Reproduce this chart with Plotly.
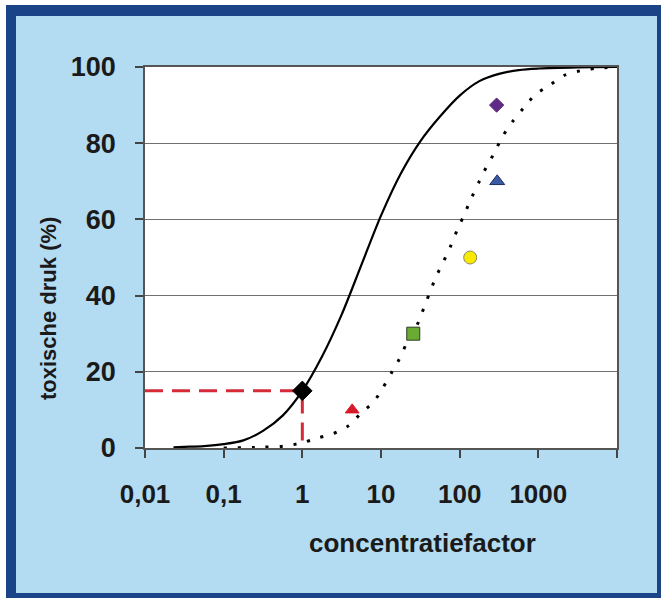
import plotly.graph_objects as go

# ---- data ----
solid_x = [0.023, 0.0316, 0.0562, 0.1, 0.178, 0.316, 0.562, 1, 1.78, 3.16, 5.62, 10, 17.8, 31.6,
           56.2, 100, 178, 316, 562, 1000, 3162, 10000]
solid_y = [0.2, 0.3, 0.5, 1.0, 2.0, 4.5, 8.5, 15, 24, 35, 48, 61, 72, 80.5,
           87, 92.5, 96.3, 98.2, 99.2, 99.6, 99.9, 100]

dot_x = [0.1, 0.3, 0.575, 0.97, 1.55, 2.4, 3.85, 5.6, 8.2, 10.7, 13.8, 18.2, 21.4, 28.8, 33.5,
         50, 61.9, 76, 93, 114, 141, 174, 219, 275, 347, 468, 646, 912, 1413, 2188, 3802, 5754, 10000]
dot_y = [0, 0.2, 0.5, 1.3, 2.6, 3.7, 5.8, 9.2, 12.3, 16, 20, 24.4, 27.8, 32.3, 35.7,
         44.9, 48.8, 52.8, 57.2, 61.2, 65.6, 69.6, 73.8, 77.4, 81.6, 85.6, 89.2, 92.7, 95.3, 97.9, 99.2, 99.7, 100]

ref_x = [0.01, 1, 1]
ref_y = [15, 15, 0]

pts_x = [1, 4.3, 25.7, 136, 300, 295]
pts_y = [15, 10, 30, 50, 70, 90]
pts_symbol = ["diamond", "triangle-up", "square", "circle", "triangle-up", "diamond"]
pts_color = ["#000000", "#d7192a", "#6aab34", "#f7ea00", "#3b5aa6", "#5e2a86"]
pts_line = ["#000000", "#d7192a", "#2f3f20", "#8a8a60", "#1d2f60", "#5e2a86"]
pts_size = [15, 12, 13, 13, 13, 11]

x_tickvals = [0.01, 0.1, 1, 10, 100, 1000, 10000]
x_ticktext = ["0,01", "0,1", "1", "10", "100", "1000", ""]
y_tickvals = [0, 20, 40, 60, 80, 100]

# ---- layout geometry (pixels) ----
W, H = 661, 598
L, R, T, B = 145, 617, 67, 448

def px(x):
    return (x - L) / (R - L)

def py(y):
    return (B - y) / (B - T)

FONT = "Arial, Liberation Sans, sans-serif"
DARK = "#1b4387"
LIGHT = "#b3dbf1"

fig = go.Figure()

fig.add_trace(go.Scatter(x=ref_x, y=ref_y, mode="lines",
                         line=dict(color="#d52b38", width=3, dash="18px,9px"),
                         hoverinfo="skip", showlegend=False))
fig.add_trace(go.Scatter(x=solid_x, y=solid_y, mode="lines",
                         line=dict(color="black", width=2.2, shape="spline", smoothing=0.9),
                         showlegend=False))
fig.add_trace(go.Scatter(x=dot_x, y=dot_y, mode="lines",
                         line=dict(color="black", width=3, dash="3px,11px", shape="spline", smoothing=0.8),
                         showlegend=False))
fig.add_trace(go.Scatter(x=pts_x, y=pts_y, mode="markers",
                         marker=dict(symbol=pts_symbol, color=pts_color, size=pts_size, opacity=1,
                                     line=dict(color=pts_line, width=1)),
                         showlegend=False))

shapes = [
    dict(type="rect", xref="paper", yref="paper", x0=px(6), x1=px(W + 5), y0=py(5), y1=py(H + 5),
         fillcolor=DARK, line=dict(width=0), layer="below"),
    dict(type="rect", xref="paper", yref="paper", x0=px(16), x1=px(657), y0=py(16), y1=py(593),
         fillcolor=LIGHT, line=dict(width=0), layer="below"),
    dict(type="rect", xref="paper", yref="paper", x0=0, x1=1, y0=0, y1=1,
         fillcolor="white", line=dict(width=0), layer="below"),
]

annotations = [
    dict(text="concentratiefactor", xref="paper", yref="paper", x=px(422), y=py(543),
         showarrow=False, font=dict(family=FONT, size=26, color="#1a1a1a", weight="bold"),
         xanchor="center", yanchor="middle"),
    dict(text="toxische druk (%)", xref="paper", yref="paper", x=px(48), y=py(309),
         showarrow=False, textangle=-90, font=dict(family=FONT, size=22, color="#1a1a1a", weight="bold"),
         xanchor="center", yanchor="middle"),
]

fig.update_layout(
    width=W, height=H,
    margin=dict(l=L, r=W - R, t=T, b=H - B, pad=0),
    paper_bgcolor="white", plot_bgcolor="white",
    shapes=shapes, annotations=annotations,
    showlegend=False,
)

fig.update_xaxes(type="log", range=[-2, 4], tickvals=x_tickvals, ticktext=x_ticktext,
                 showgrid=False, zeroline=False, showline=True, mirror=True,
                 linecolor="#555555", linewidth=1.5,
                 ticks="outside", ticklen=8, tickcolor="#444444", tickwidth=1.5,
                 ticklabelstandoff=14,
                 tickfont=dict(family=FONT, size=26, color="#1a1a1a", weight="bold"))
fig.update_yaxes(range=[0, 100], tickvals=y_tickvals,
                 showgrid=True, gridcolor="#707070", gridwidth=1.2, zeroline=False,
                 showline=True, mirror=True, linecolor="#555555", linewidth=1.5,
                 ticks="outside", ticklen=8, tickcolor="#444444", tickwidth=1.5,
                 ticklabelstandoff=14,
                 tickfont=dict(family=FONT, size=27, color="#1a1a1a", weight="bold"))

fig.write_html("out.html", config={"displayModeBar": False},
               post_script="document.body.style.margin='0';")
